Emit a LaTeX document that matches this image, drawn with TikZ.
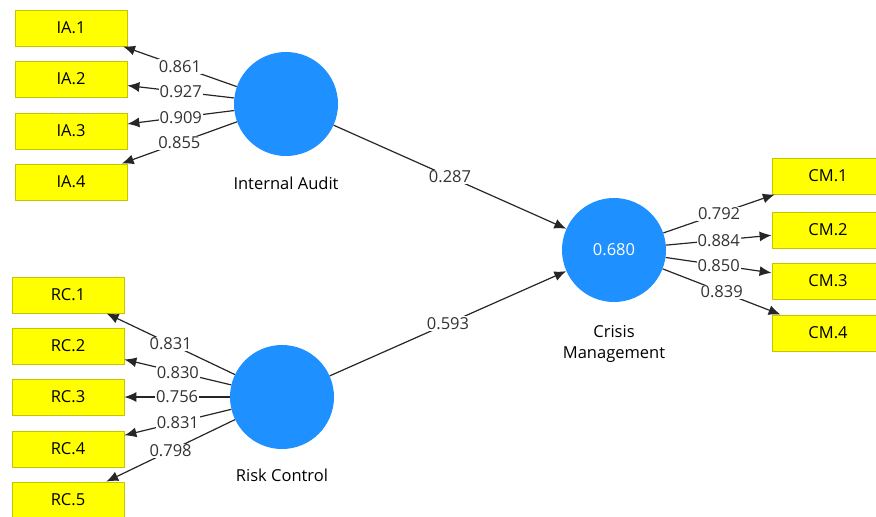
\documentclass[tikz,border=0pt]{standalone}
\usepackage{fontspec}
\setmainfont{Open Sans}
\usetikzlibrary{arrows.meta}
\definecolor{lvblue}{RGB}{30,144,255}
\definecolor{indyellow}{RGB}{255,255,0}
\definecolor{indborder}{RGB}{196,196,0}
\tikzset{
  latent/.style={circle, fill=lvblue, minimum size=104pt, inner sep=0pt, text=white},
  indicator/.style={rectangle, fill=indyellow, draw=indborder, line width=0.8pt,
    minimum width=112pt, minimum height=36pt, inner sep=0pt},
  load/.style={-{Latex[length=12pt,width=10pt]}, line width=1.2pt, draw=black!85},
  coef/.style={fill=white, inner sep=1pt, midway, text=black!80}
}
\begin{document}
\begin{tikzpicture}[x=1pt, y=-1pt, font=\fontsize{16.5}{21}\selectfont]
            \useasboundingbox (0,0) rectangle (876,517);
            %Nodes
            \node[latent] at (286,104) (IA) {};
            \node[latent] at (282,397) (RC) {};
            \node[latent] at (614,250) (CM) {0.680};
            \node at (286,183) (IAtxt) {Internal Audit};
            \node at (282,475) (RCtxt) {Risk Control};
            \node[align=center] at (614,344) (CMtxt) {Crisis\\Management};
            \node[indicator] at (71,28)   (ia1) {IA.1};
            \node[indicator] at (71,79)   (ia2) {IA.2};
            \node[indicator] at (71,131)  (ia3) {IA.3};
            \node[indicator] at (71,182)  (ia4) {IA.4};
            \node[indicator] at (68,295)  (rc1) {RC.1};
            \node[indicator] at (68,346)  (rc2) {RC.2};
            \node[indicator] at (68,397)  (rc3) {RC.3};
            \node[indicator] at (68,449)  (rc4) {RC.4};
            \node[indicator] at (68,500)  (rc5) {RC.5};
            \node[indicator] at (828,176) (cm1) {CM.1};
            \node[indicator] at (828,230) (cm2) {CM.2};
            \node[indicator] at (828,281) (cm3) {CM.3};
            \node[indicator] at (828,333) (cm4) {CM.4};

            %Lines
            \draw[load] (IA) -- (ia1) node[coef] {0.861};
            \draw[load] (IA) -- (ia2) node[coef] {0.927};
            \draw[load] (IA) -- (ia3) node[coef] {0.909};
            \draw[load] (IA) -- (ia4) node[coef] {0.855};
            \draw[load] (RC) -- (rc1) node[coef] {0.831};
            \draw[load] (RC) -- (rc2) node[coef] {0.830};
            \draw[load] (RC) -- (rc3) node[coef] {0.756};
            \draw[load] (RC) -- (rc4) node[coef] {0.831};
            \draw[load] (RC) -- (rc5) node[coef] {0.798};
            \draw[load] (CM) -- (cm1) node[coef] {0.792};
            \draw[load] (CM) -- (cm2) node[coef] {0.884};
            \draw[load] (CM) -- (cm3) node[coef] {0.850};
            \draw[load] (CM) -- (cm4) node[coef] {0.839};
            \draw[load] (IA) -- (CM) node[coef] {0.287};
            \draw[load] (RC) -- (CM) node[coef] {0.593};
\end{tikzpicture}
\end{document}
